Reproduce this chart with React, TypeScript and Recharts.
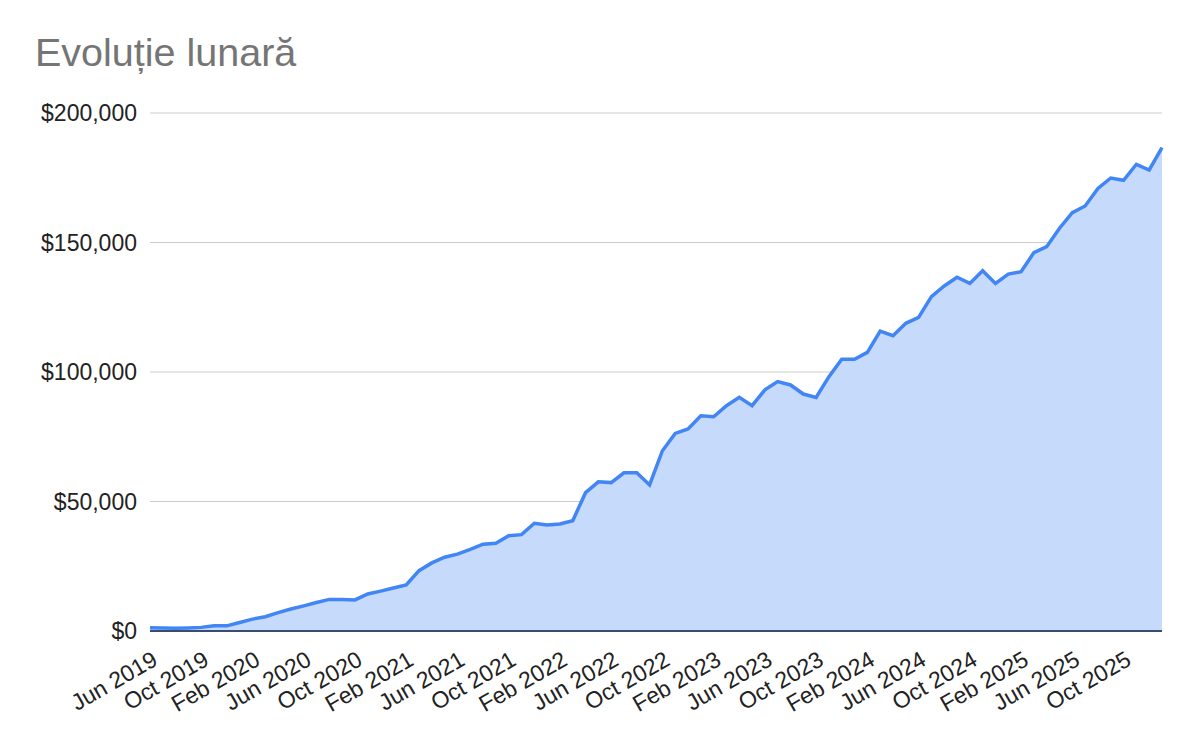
import React from "react";
import { AreaChart, Area, XAxis, YAxis, CartesianGrid } from "recharts";

const months: string[] = [
  "Jun 2019", "Jul 2019", "Aug 2019", "Sep 2019", "Oct 2019", "Nov 2019", "Dec 2019",
  "Jan 2020", "Feb 2020", "Mar 2020", "Apr 2020", "May 2020", "Jun 2020", "Jul 2020", "Aug 2020", "Sep 2020", "Oct 2020", "Nov 2020", "Dec 2020",
  "Jan 2021", "Feb 2021", "Mar 2021", "Apr 2021", "May 2021", "Jun 2021", "Jul 2021", "Aug 2021", "Sep 2021", "Oct 2021", "Nov 2021", "Dec 2021",
  "Jan 2022", "Feb 2022", "Mar 2022", "Apr 2022", "May 2022", "Jun 2022", "Jul 2022", "Aug 2022", "Sep 2022", "Oct 2022", "Nov 2022", "Dec 2022",
  "Jan 2023", "Feb 2023", "Mar 2023", "Apr 2023", "May 2023", "Jun 2023", "Jul 2023", "Aug 2023", "Sep 2023", "Oct 2023", "Nov 2023", "Dec 2023",
  "Jan 2024", "Feb 2024", "Mar 2024", "Apr 2024", "May 2024", "Jun 2024", "Jul 2024", "Aug 2024", "Sep 2024", "Oct 2024", "Nov 2024", "Dec 2024",
  "Jan 2025", "Feb 2025", "Mar 2025", "Apr 2025", "May 2025", "Jun 2025", "Jul 2025", "Aug 2025", "Sep 2025", "Oct 2025", "Nov 2025", "Dec 2025",
  "Jan 2026",
];

const values: number[] = [
  1300, 1200, 1100, 1200, 1400, 2000, 2000,
  3300, 4600, 5500, 7100, 8500, 9700, 11000, 12200, 12200, 12000, 14300, 15400,
  16600, 17800, 23300, 26300, 28500, 29700, 31500, 33500, 33900, 36800, 37200, 41600,
  40900, 41300, 42600, 53400, 57600, 57300, 61100, 61100, 56400, 69600, 76300, 78000,
  83100, 82700, 87000, 90200, 87000, 93100, 96300, 95000, 91500, 90200, 98200, 104900,
  104900, 107600, 115800, 114000, 118800, 121100, 129100, 133200, 136600, 134200, 139100, 134200,
  137800, 138700, 146100, 148400, 155500, 161500, 164100, 170900, 174900, 174000, 180200, 178000,
  186600,
];

const yTicks: number[] = [0, 50000, 100000, 150000, 200000];
const title = "Evoluție lunară";

const data = months.map((m, i) => ({ month: m, value: values[i] }));

const FONT = "Arial, 'Liberation Sans', sans-serif";

const fmtMoney = (v: number) => "$" + v.toLocaleString("en-US");

const XTick = (props: any) => {
  const { x, y, payload } = props;
  const ax = x + 9;
  const ay = y + 33;
  return (
    <text
      x={ax}
      y={ay}
      textAnchor="end"
      transform={`rotate(-30 ${ax} ${ay})`}
      fontFamily={FONT}
      fontSize={23}
      fill="#222222"
    >
      {payload.value}
    </text>
  );
};

export default function App() {
  return (
    <div style={{ position: "absolute", left: 0, top: 0, width: 1200, height: 742, background: "#fff" }}>
      <div
        style={{
          position: "absolute",
          left: 35,
          top: 33,
          fontFamily: FONT,
          fontSize: 39.5,
          lineHeight: 1,
          color: "#757575",
          whiteSpace: "nowrap",
        }}
      >
        {title}
      </div>
      <AreaChart
        width={1200}
        height={742}
        data={data}
        margin={{ top: 113, right: 38, bottom: 0, left: 0 }}
      >
        <CartesianGrid horizontal={true} vertical={false} stroke="#cccccc" strokeWidth={1} />
        <XAxis
          dataKey="month"
          interval={3}
          height={111}
          tickLine={false}
          tickSize={0}
          tickMargin={0}
          axisLine={{ stroke: "#384c6d", strokeWidth: 2 }}
          tick={<XTick />}
        />
        <YAxis
          width={150}
          domain={[0, 200000]}
          ticks={yTicks}
          tickFormatter={fmtMoney}
          axisLine={false}
          tickLine={false}
          tickSize={6}
          tickMargin={7}
          tick={{ fontFamily: FONT, fontSize: 23, fill: "#222222" }}
        />
        <Area
          type="linear"
          dataKey="value"
          stroke="#4285f4"
          strokeWidth={3.5}
          fill="#c6dafc"
          fillOpacity={1}
          dot={false}
          activeDot={false}
          isAnimationActive={false}
        />
      </AreaChart>
    </div>
  );
}
